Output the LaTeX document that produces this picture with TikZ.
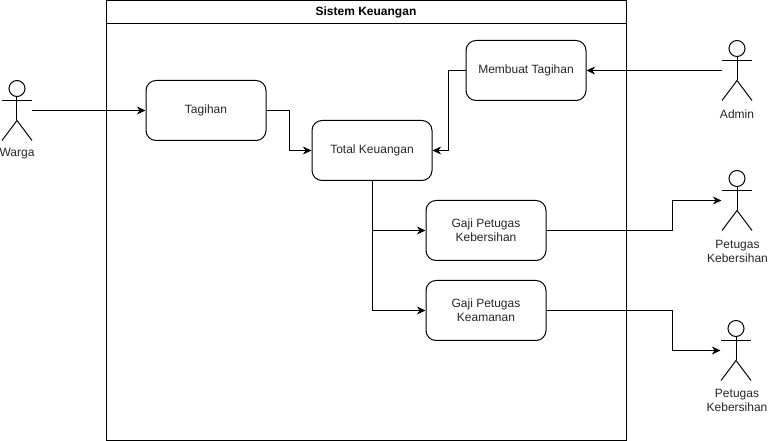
\documentclass[tikz,border=0pt]{standalone}
\usepackage{fontspec}
\setmainfont{Liberation Sans}
\usetikzlibrary{arrows.meta}

\tikzset{lane/.style={draw,anchor=north west,minimum width=390pt,minimum height=330pt,inner sep=0pt},
lane title/.style={font=\bfseries\fontsize{9}{10.5}\selectfont,inner sep=0pt},
process/.style={draw,rounded corners=7.5pt,minimum width=90pt,minimum height=45pt,inner sep=0pt,align=center,font=\fontsize{9}{10.5}\selectfont,text=black!85},
actor label/.style={font=\fontsize{9}{10.5}\selectfont,align=center,inner sep=0pt,text=black!85},
flow/.style={-{Stealth[length=6.5pt,width=6pt]}},
pics/actor/.style={code={
\draw (0,-22) circle (8);
\draw (0,-14) -- (0,10);
\draw (-15,-10) -- (15,-10);
\draw (-15,30) -- (0,10) -- (15,30);
}}}

\begin{document}
\begin{tikzpicture}[x=0.75pt,y=-0.75pt,line width=0.75pt]
\useasboundingbox (0.5,0) rectangle (768.5,441);

%% lane
\node [lane] (nLane) at (106.5,0.5) {};
\coordinate (nHeadL) at (106.5,23.5);
\coordinate (nHeadR) at (626.5,23.5);
\draw (nHeadL) -- (nHeadR);
\node [lane title] (nTitle) at (366.5,12) {Sistem Keuangan};

%% processes
\node [process] (nTagihan) at (206.5,110.5) {Tagihan};
\node [process] (nTotal) at (372.5,150.5) {Total Keuangan};
\node [process] (nMembuat) at (526.5,70.5) {Membuat Tagihan};
\node [process] (nKebersihan) at (486.5,230.5) {Gaji Petugas\\Kebersihan};
\node [process] (nKeamanan) at (486.5,310.5) {Gaji Petugas\\Keamanan};

%% actors
\pic at (17.5,110.5) {actor};
\pic at (737.5,70.5) {actor};
\pic at (737.5,200.5) {actor};
\pic at (736.5,350.5) {actor};

%% actor labels
\node [actor label] (nWarga) at (17.5,153.5) {Warga};
\node [actor label] (nAdmin) at (737.5,114) {Admin};
\node [actor label] (nPetugasA) at (738,251) {Petugas\\Kebersihan};
\node [actor label] (nPetugasB) at (737.5,400) {Petugas\\Kebersihan};

%% connector ends at the actors
\coordinate (nWargaR) at (32.5,110.5);
\coordinate (nAdminL) at (722.5,70.5);
\coordinate (nPetugasAL) at (722,200.5);
\coordinate (nPetugasBL) at (721,350.5);

%% connectors
\draw [flow] (nWargaR) -- (nTagihan.west);
\draw [flow] (nAdminL) -- (nMembuat.east);
\draw [flow] (nTagihan.east) -- ++(23,0) |- (nTotal.west);
\draw [flow] (nMembuat.west) -- ++(-17,0) |- (nTotal.east);
\draw [flow] (nTotal.south) |- (nKebersihan.west);
\draw [flow] (nTotal.south) |- (nKeamanan.west);
\draw [flow] (nKebersihan.east) -- ++(126,0) |- (nPetugasAL);
\draw [flow] (nKeamanan.east) -- ++(126,0) |- (nPetugasBL);

\end{tikzpicture}
\end{document}
